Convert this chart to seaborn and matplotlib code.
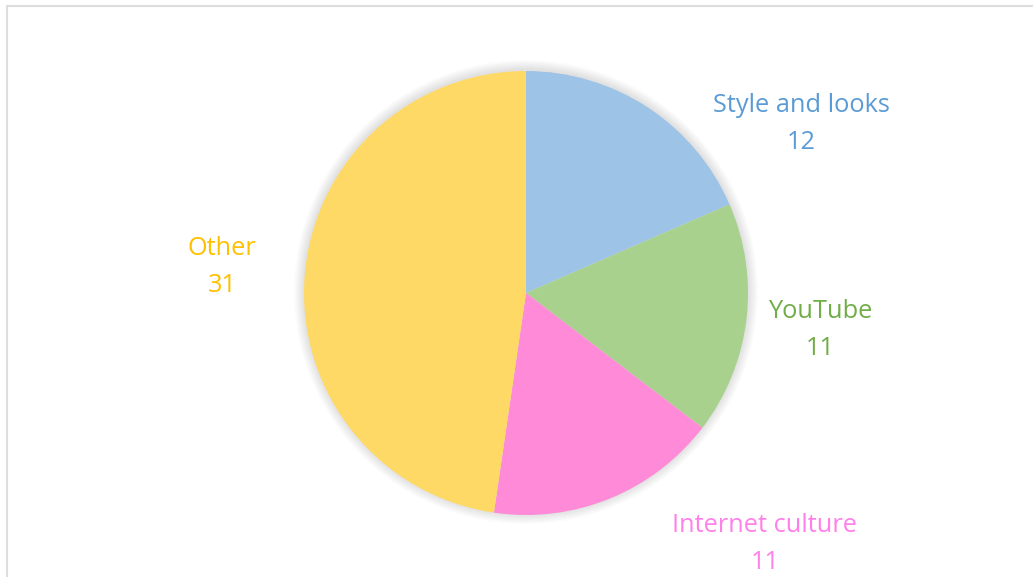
import matplotlib
matplotlib.use("Agg")
import matplotlib.pyplot as plt
from matplotlib.lines import Line2D
from matplotlib.patches import Circle
import seaborn as sns

categories = ["Style and looks", "YouTube", "Internet culture", "Other"]
values = [12, 11, 11, 31]
slice_colors = ["#9DC3E6", "#A9D18E", "#FF8AD8", "#FFD966"]
label_colors = ["#5B9BD5", "#70AD47", "#FF80E8", "#FFC000"]

sns.set_theme(style="white")
plt.rcParams["font.family"] = ["Open Sans", "DejaVu Sans"]

W, H = 1033, 577
fig = plt.figure(figsize=(W / 100, H / 100), dpi=100)
ax = fig.add_axes([0, 0, 1, 1])

cx, cy, r = 526, H - 293, 222

# soft shadow
for i in range(10, 0, -1):
    ax.add_patch(Circle((cx, cy + 1), r + i * 1.0, color="#000000", alpha=0.012, lw=0, zorder=0))

wedges, _ = ax.pie(values, colors=slice_colors, startangle=90, counterclock=False,
                   center=(cx, cy), radius=r, frame=True,
                   wedgeprops=dict(linewidth=0))
ax.set_xlim(0, W)
ax.set_ylim(0, H)
ax.set_aspect("equal")
ax.axis("off")

label_pos = [(801, 124), (820, 330), (765, 544), (222, 267)]
for cat, v, col, (lx, ly) in zip(categories, values, label_colors, label_pos):
    ax.text(lx, H - ly, f"{cat}\n{v}", color=col, fontsize=18.3, ha="center", va="center",
            linespacing=1.6)

# frame lines
fig.add_artist(Line2D([6.5 / W, 6.5 / W], [0, 1 - 6 / H], transform=fig.transFigure,
                      color="#DDDDDD", lw=1.5))
fig.add_artist(Line2D([6.5 / W, 1], [1 - 6 / H, 1 - 6 / H], transform=fig.transFigure,
                      color="#DDDDDD", lw=1.5))

fig.savefig("out.png", dpi=100, facecolor="white")
